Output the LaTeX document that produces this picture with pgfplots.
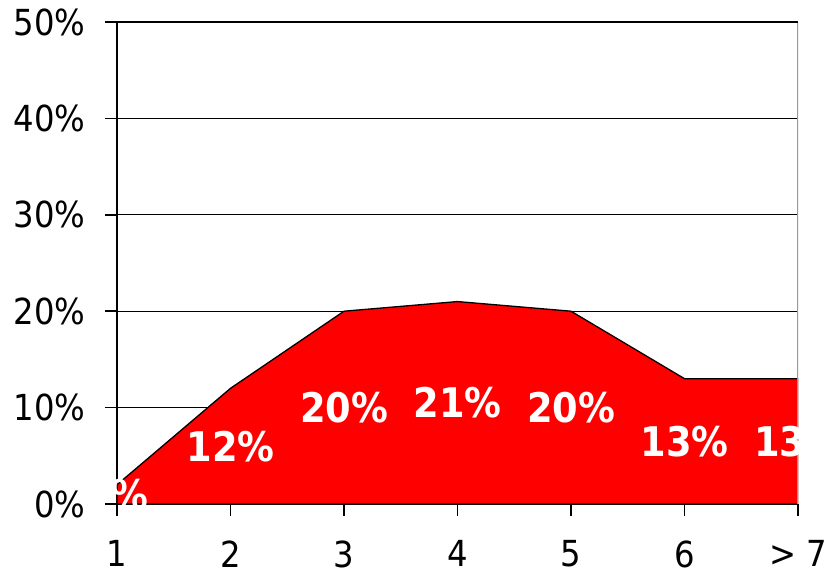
\documentclass[border=0pt]{standalone}
\usepackage{pgfplots}
\pgfplotsset{compat=1.18}
\usepackage{pgfplotstable}
\usepackage{fontspec}
\setmainfont{DejaVu Sans Condensed}

\pgfplotstableread{
x  v
1  2
2  12
3  20
4  21
5  20
6  13
7  13
}\shares

\begin{document}
\begin{tikzpicture}
\useasboundingbox (-117bp,-74bp) rectangle (711bp,504bp);
\begin{axis}[
  at={(0,0)}, anchor=south west,
  scale only axis, width=681bp, height=482bp,
  xmin=1, xmax=7, ymin=0, ymax=50,
  xtick={1,...,7}, xticklabels={1,2,3,4,5,6,{> 7}},
  ytick={0,10,...,50},
  yticklabel={\pgfmathprintnumber{\tick}\%},
  /pgf/number format/assume math mode=true,
  axis x line*=bottom, axis y line*=left,
  axis line style={black, line width=1.8bp},
  tick style={black, line width=1.5bp},
  tick align=outside, major tick length=12bp,
  ymajorgrids, grid style={black, line width=1.3bp},
  every tick label/.append style={font=\fontsize{36}{40}\selectfont},
  xticklabel style={yshift=-21bp},
  yticklabel style={xshift=-16bp},
  clip marker paths=true,
]
\addplot[fill=red, draw=black, line width=1.3bp] table[x=x, y=v] {\shares} \closedcycle;
\draw[gray!80, line width=1.3bp] (axis cs:7,0) -- (axis cs:7,50);
\draw[black, line width=1.3bp] (axis cs:1,50) -- (axis cs:7,50);
\addplot[draw=none, mark=none, point meta=\thisrow{v},
  nodes near coords={\pgfmathprintnumber{\pgfplotspointmeta}\%},
  nodes near coords align={center},
  every node near coord/.append style={white, font=\bfseries\fontsize{41}{44}\selectfont, inner sep=0pt}]
  table[x=x, y expr=\thisrow{v}/2] {\shares};
\end{axis}
\end{tikzpicture}
\end{document}
